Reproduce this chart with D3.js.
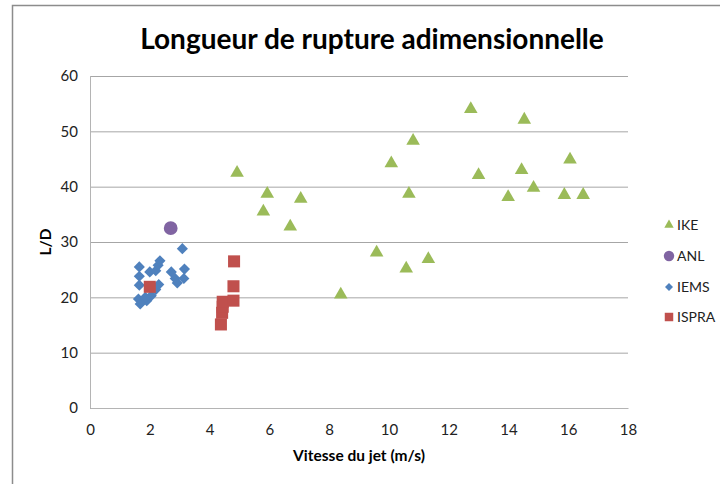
<!DOCTYPE html>
<html>
<head>
<meta charset="utf-8">
<script src="https://cdn.jsdelivr.net/npm/d3@7"></script>
<style>
  html, body { margin: 0; padding: 0; background: #fff; }
  svg { display: block; font-family: Lato, "Open Sans", sans-serif; }
</style>
</head>
<body>
<svg id="chart" width="720" height="484"></svg>
<script>
// Series: [jet velocity (m/s), L/D]
const ike = [
  [4.92, 42.5], [5.93, 38.7], [5.80, 35.5], [7.05, 37.8], [6.70, 32.8],
  [8.39, 20.5], [9.59, 28.1], [10.08, 44.2], [10.81, 48.3], [10.67, 38.7],
  [10.58, 25.2], [11.32, 26.9], [12.74, 54.0], [13.00, 42.1], [13.99, 38.1],
  [14.44, 43.0], [14.53, 52.1], [14.84, 39.8], [15.87, 38.5], [16.06, 44.9],
  [16.50, 38.5]
];
const anl = [[2.70, 32.5]];
const iems = [
  [1.65, 25.5], [1.65, 23.8], [1.65, 22.2], [1.62, 19.7], [1.68, 18.8],
  [1.90, 19.4], [2.05, 20.3], [2.20, 21.4], [2.30, 22.3], [2.00, 24.6],
  [2.20, 24.8], [2.28, 25.8], [2.34, 26.6], [2.72, 24.6], [2.85, 23.4],
  [2.92, 22.6], [3.09, 28.8], [3.16, 25.1], [3.14, 23.4], [1.85, 20.0]
];
const ispra = [
  [2.00, 21.9], [4.38, 15.1], [4.42, 17.2], [4.44, 18.3], [4.44, 19.2],
  [4.80, 19.4], [4.80, 22.0], [4.82, 26.5]
];

const xTicks = [0, 2, 4, 6, 8, 10, 12, 14, 16, 18];
const yTicks = [0, 10, 20, 30, 40, 50, 60];

const seriesNames = ["IKE", "ANL", "IEMS", "ISPRA"];
const seriesColors = ["#9BBB59", "#8064A2", "#4F81BD", "#C0504D"];
const seriesData = [ike, anl, iems, ispra];
// Diamond is drawn as a square turned by 45 degrees
const seriesShapes = [d3.symbolTriangle, d3.symbolCircle, d3.symbolSquare, d3.symbolSquare];
const seriesRotate = [0, 0, 45, 0];

const svg = d3.select("#chart");
const plot = { left: 90, right: 628, top: 76, bottom: 408 };

const x = d3.scaleLinear().domain([0, 18]).range([plot.left, plot.right]);
const y = d3.scaleLinear().domain([0, 60]).range([plot.bottom, plot.top]);

// Outer chart frame (only top and left edges fall inside the view)
svg.append("path")
  .attr("d", "M12.5,484 L12.5,5.5 L720,5.5")
  .attr("fill", "none")
  .attr("stroke", "#8c8c8c")
  .attr("stroke-width", 1.5);

// Title
svg.append("text")
  .attr("x", 372).attr("y", 49)
  .attr("text-anchor", "middle")
  .attr("font-size", 28).attr("font-weight", "bold")
  .attr("fill", "#000")
  .text("Longueur de rupture adimensionnelle");

// Horizontal gridlines + y axis labels
const yAxis = d3.axisLeft(y).tickValues(yTicks)
  .tickSize(-(plot.right - plot.left)).tickPadding(12).tickFormat(d3.format("d"));
const gy = svg.append("g").attr("transform", `translate(${plot.left},0)`).call(yAxis);
gy.select(".domain").remove();
gy.selectAll(".tick line").attr("stroke", "#a6a6a6").attr("stroke-width", 1);
gy.selectAll(".tick text").attr("font-size", 15).attr("fill", "#222")
  .attr("font-family", "Lato, 'Open Sans', sans-serif");

// Axis lines
svg.append("line")
  .attr("x1", plot.left + 0.5).attr("x2", plot.left + 0.5)
  .attr("y1", plot.top).attr("y2", plot.bottom)
  .attr("stroke", "#b4b4b4").attr("stroke-width", 1);

const xAxis = d3.axisBottom(x).tickValues(xTicks).tickSize(0).tickPadding(16)
  .tickFormat(d3.format("d"));
const gx = svg.append("g").attr("transform", `translate(0,${plot.bottom})`).call(xAxis);
gx.select(".domain").attr("stroke", "#b4b4b4");
gx.selectAll(".tick text").attr("font-size", 15).attr("fill", "#222")
  .attr("font-family", "Lato, 'Open Sans', sans-serif");

// Axis titles
svg.append("text")
  .attr("x", 359).attr("y", 461)
  .attr("text-anchor", "middle")
  .attr("font-size", 15.5).attr("font-weight", "bold")
  .text("Vitesse du jet (m/s)");

svg.append("text")
  .attr("transform", "translate(51,242) rotate(-90)")
  .attr("text-anchor", "middle")
  .attr("font-size", 15.5).attr("font-weight", "bold")
  .text("L/D");

// Markers
const markerSize = [80, 150, 62, 145];
seriesData.forEach((data, i) => {
  svg.append("g").selectAll("path")
    .data(data)
    .join("path")
    .attr("transform", d => `translate(${x(d[0])},${y(d[1])}) rotate(${seriesRotate[i]})`)
    .attr("d", d3.symbol().type(seriesShapes[i]).size(markerSize[i]))
    .attr("fill", seriesColors[i]);
});

// Legend
const legendY = [225, 256, 287, 317];
const legendSize = [38, 85, 32, 72];
const legend = svg.append("g");
seriesNames.forEach((name, i) => {
  legend.append("path")
    .attr("transform", `translate(669,${legendY[i]}) rotate(${seriesRotate[i]})`)
    .attr("d", d3.symbol().type(seriesShapes[i]).size(legendSize[i]))
    .attr("fill", seriesColors[i]);
  legend.append("text")
    .attr("x", 677).attr("y", legendY[i] + 5)
    .attr("font-size", 14).attr("fill", "#222")
    .text(name);
});
</script>
</body>
</html>
